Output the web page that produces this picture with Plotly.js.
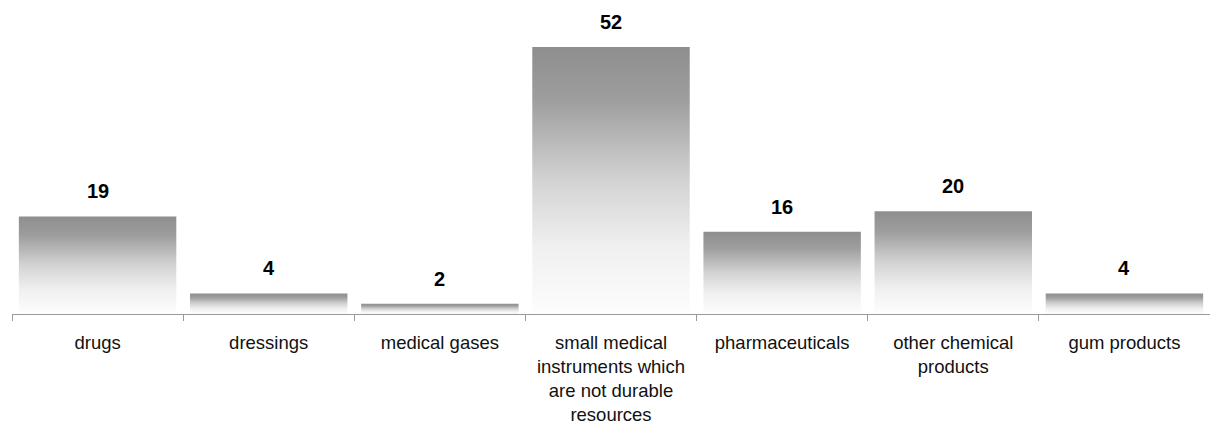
<!DOCTYPE html>
<html>
<head>
<meta charset="utf-8">
<script src="https://cdn.plot.ly/plotly-3.0.1.min.js"></script>
<style>
  html, body { margin: 0; padding: 0; background: #fff; }
  #chart { width: 1210px; height: 426px; }
</style>
</head>
<body>
<div id="chart"></div>
<script>
const categories = [
  "drugs",
  "dressings",
  "medical gases",
  "small medical<br>instruments which<br>are not durable<br>resources",
  "pharmaceuticals",
  "other chemical<br>products",
  "gum products"
];
const values = [19, 4, 2, 52, 16, 20, 4];

const trace = {
  type: "bar",
  x: categories,
  y: values,
  marker: { color: "#a0a0a0", line: { width: 0 } },
  hoverinfo: "skip",
  cliponaxis: false
};

const annotations = categories.map((c, i) => ({
  x: c,
  y: values[i],
  xref: "x",
  yref: "y",
  text: "<b>" + values[i] + "</b>",
  showarrow: false,
  yanchor: "bottom",
  yshift: 12,
  font: { family: "Liberation Sans, Arial, sans-serif", size: 20, color: "#000" }
}));

const layout = {
  width: 1210,
  height: 426,
  margin: { l: 12, r: 0, t: 6, b: 112 },
  paper_bgcolor: "#fff",
  plot_bgcolor: "#fff",
  showlegend: false,
  bargap: 0.08,
  xaxis: {
    type: "category",
    showline: true,
    linecolor: "#999",
    linewidth: 1,
    ticks: "outside",
    tickson: "boundaries",
    ticklen: 6,
    tickcolor: "#999",
    tickwidth: 1,
    ticklabelstandoff: 12,
    showgrid: false,
    zeroline: false,
    tickfont: { family: "Liberation Sans, Arial, sans-serif", size: 18.5, color: "#111" },
    fixedrange: true
  },
  yaxis: {
    range: [0, 60],
    visible: false,
    showgrid: false,
    zeroline: false,
    fixedrange: true
  },
  annotations: annotations
};

Plotly.newPlot("chart", [trace], layout, { staticPlot: true, displayModeBar: false }).then(gd => {
  const svgNS = "http://www.w3.org/2000/svg";
  const svg = gd.querySelector("svg.main-svg");
  let defs = svg.querySelector("defs");
  if (!defs) { defs = document.createElementNS(svgNS, "defs"); svg.insertBefore(defs, svg.firstChild); }
  const grad = document.createElementNS(svgNS, "linearGradient");
  grad.setAttribute("id", "barGrad");
  grad.setAttribute("x1", "0"); grad.setAttribute("y1", "0");
  grad.setAttribute("x2", "0"); grad.setAttribute("y2", "1");
  const stops = [[0, "#8e8e8e"], [0.2, "#9e9e9e"], [0.5, "#d3d3d3"], [0.75, "#f0f0f0"], [1, "#fdfdfd"]];
  stops.forEach(([o, c]) => {
    const s = document.createElementNS(svgNS, "stop");
    s.setAttribute("offset", o);
    s.setAttribute("stop-color", c);
    grad.appendChild(s);
  });
  defs.appendChild(grad);
  gd.querySelectorAll(".bars .point path").forEach(p => { p.style.fill = "url(#barGrad)"; });
});
</script>
</body>
</html>
